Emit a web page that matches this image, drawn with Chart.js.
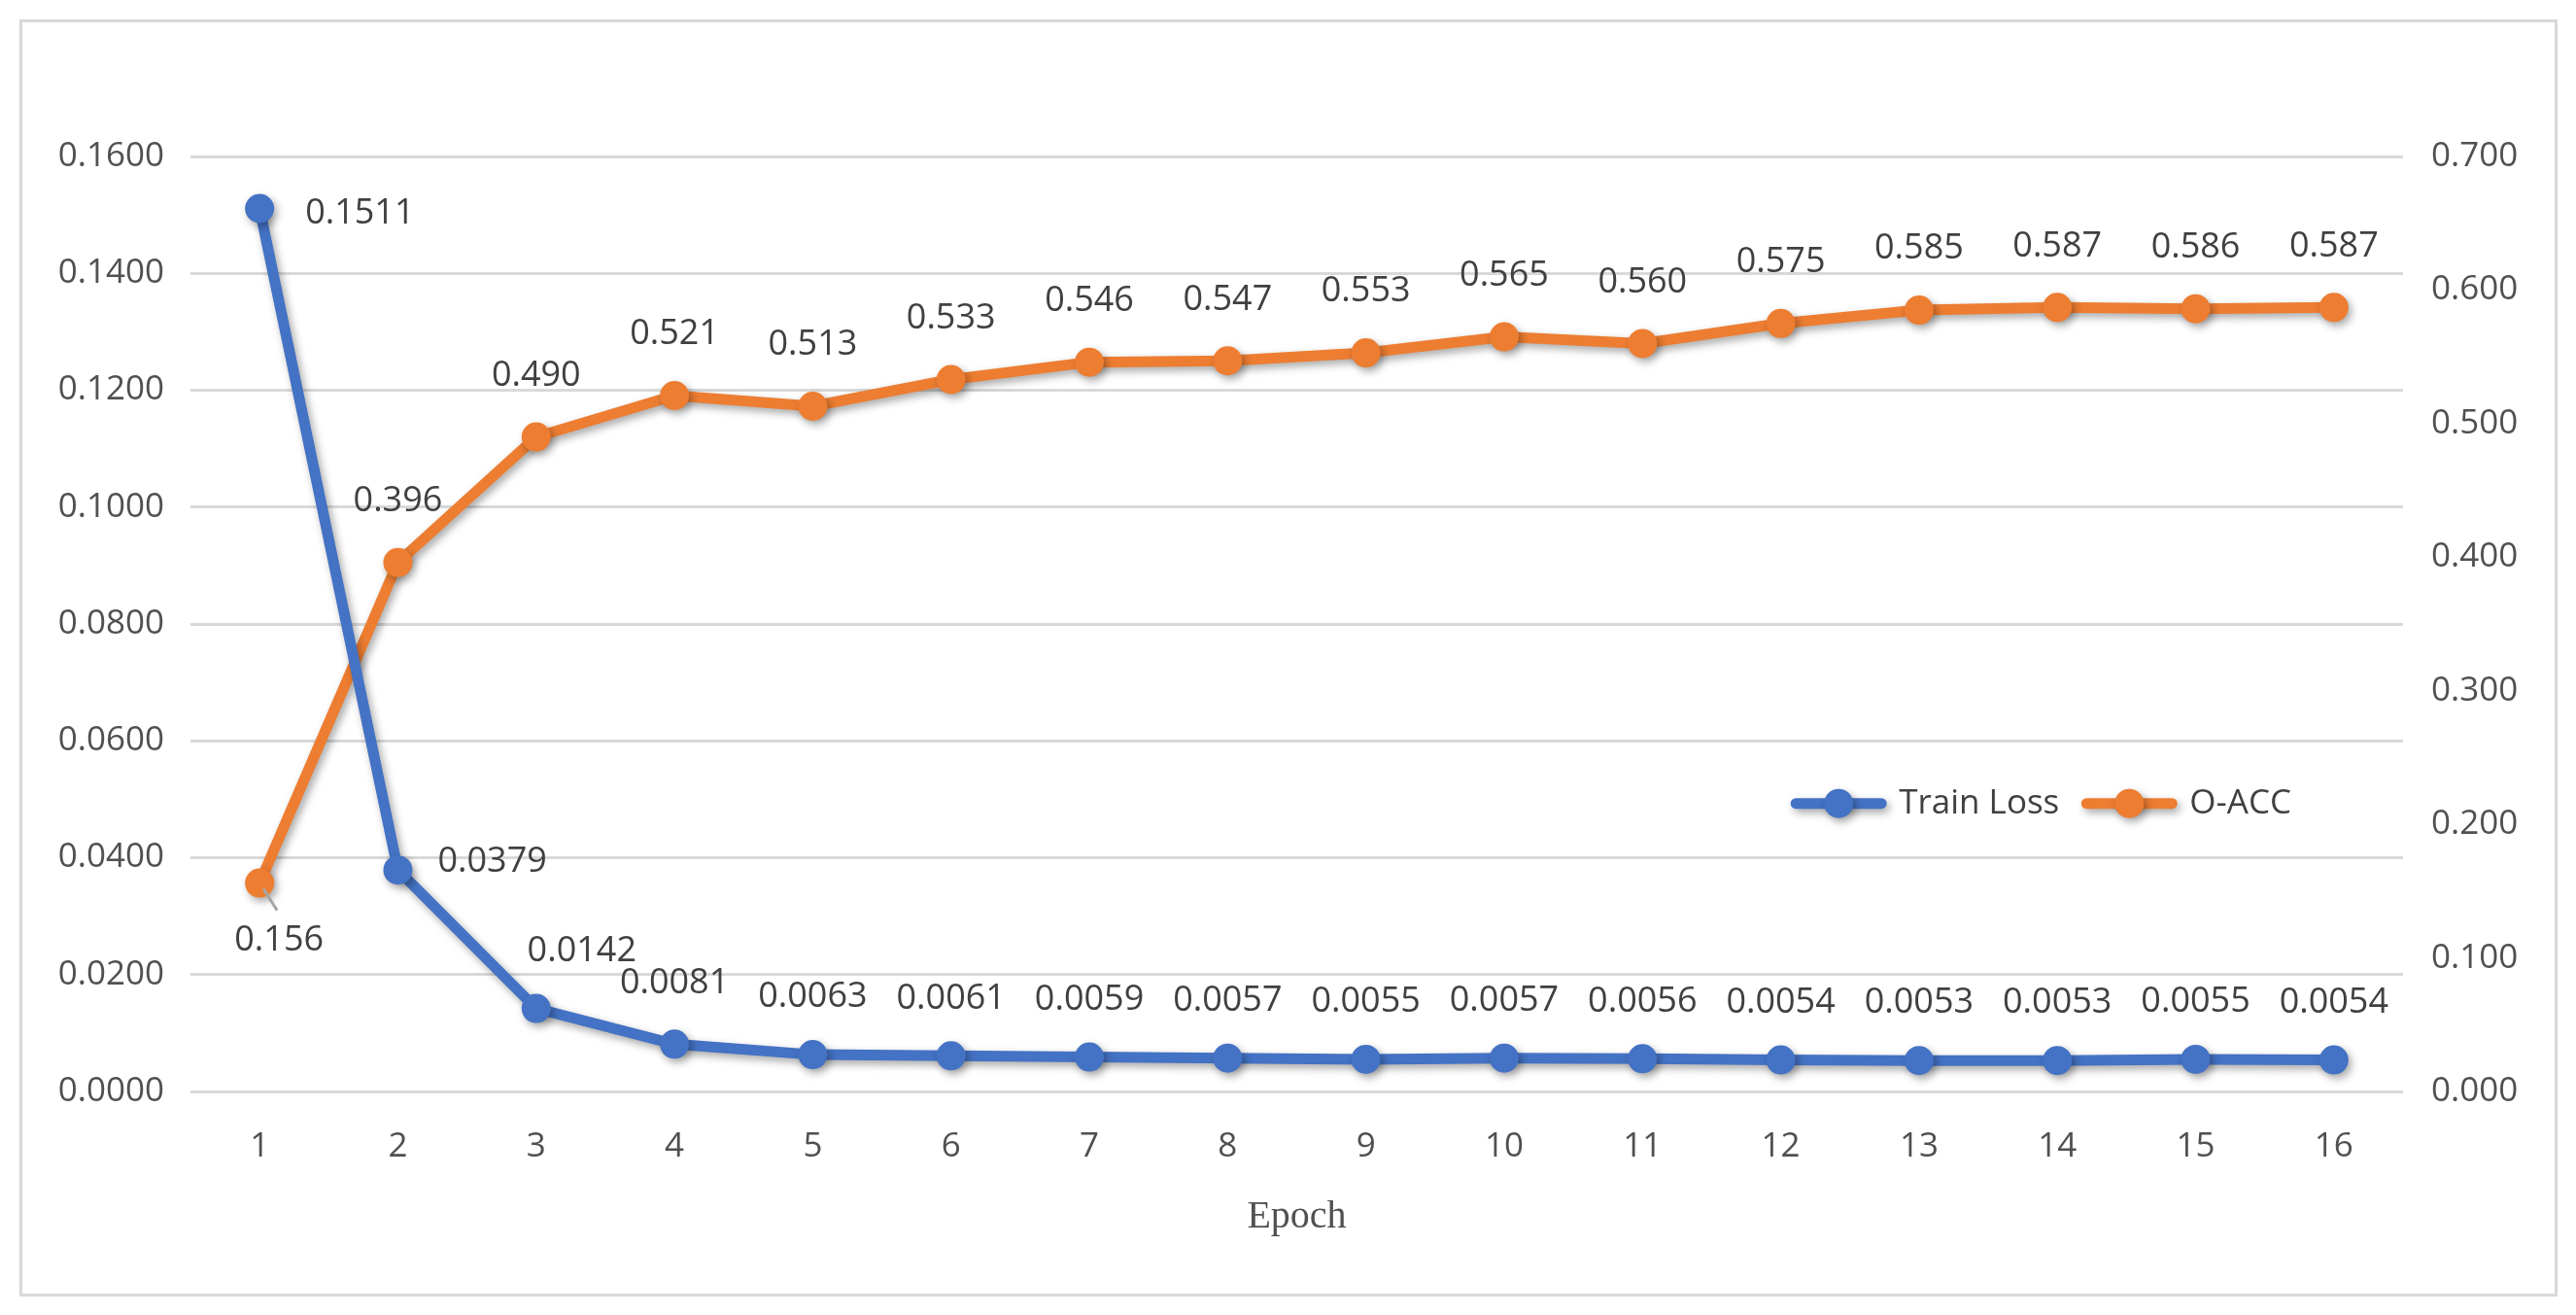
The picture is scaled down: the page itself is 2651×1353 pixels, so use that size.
<!DOCTYPE html>
<html>
<head>
<meta charset="utf-8">
<title>Train Loss / O-ACC</title>
<script src="https://cdn.jsdelivr.net/npm/chart.js@4.4.0/dist/chart.umd.min.js"></script>
<style>
html, body { margin: 0; padding: 0; background: #fff; }
#frame { position: absolute; left: 20px; top: 20px; width: 2606px; height: 1308px; border: 3px solid #d9d9d9; }
#wrap { position: absolute; left: 0; top: 0; width: 2651px; height: 1353px; }
</style>
</head>
<body>
<div id="frame"></div>
<div id="wrap"><canvas id="lossChart"></canvas></div>
<script>
const epochs = ['1', '2', '3', '4', '5', '6', '7', '8', '9', '10', '11', '12', '13', '14', '15', '16'];
const trainLoss = [0.1511, 0.0379, 0.0142, 0.0081, 0.0063, 0.0061, 0.0059, 0.0057, 0.0055, 0.0057, 0.0056, 0.0054, 0.0053, 0.0053, 0.0055, 0.0054];
const oAcc = [0.156, 0.396, 0.490, 0.521, 0.513, 0.533, 0.546, 0.547, 0.553, 0.565, 0.560, 0.575, 0.585, 0.587, 0.586, 0.587];

const BLUE = '#4472C4';
const ORANGE = '#ED7D31';
const TEXT = '#505050';
const FONT = '"Open Sans", "Noto Sans", sans-serif';

// where each value label sits relative to its point
function lossSpot(i) {
    if (i === 0) return { dx: 47, dy: 5, align: 'left' };
    if (i === 1) return { dx: 41, dy: -8, align: 'left' };
    if (i === 2) return { dx: 47, dy: -59, align: 'center' };
    if (i === 3) return { dx: 0, dy: -63, align: 'center' };
    return { dx: 0, dy: -59, align: 'center' };
}
function accSpot(i) {
    if (i === 0) return { dx: 20, dy: 59, align: 'center', leader: true };
    return { dx: 0, dy: -63, align: 'center' };
}

function setShadow(ctx) {
    ctx.shadowColor = 'rgba(0,0,0,0.35)';
    ctx.shadowBlur = 9;
    ctx.shadowOffsetX = 3;
    ctx.shadowOffsetY = 4;
}

const shadowPlugin = {
    id: 'shadowPlugin',
    beforeDatasetsDraw(chart) {
        chart.ctx.save();
        setShadow(chart.ctx);
    },
    afterDatasetsDraw(chart) {
        chart.ctx.restore();
    }
};

const pointLabels = {
    id: 'pointLabels',
    afterDraw(chart) {
        const ctx = chart.ctx;
        ctx.save();
        ctx.font = '36px ' + FONT;
        ctx.fillStyle = '#404040';
        ctx.textBaseline = 'middle';
        chart.data.datasets.forEach((ds, di) => {
            const meta = chart.getDatasetMeta(di);
            meta.data.forEach((pt, i) => {
                const s = ds.labelSpot(i);
                if (s.leader) {
                    ctx.strokeStyle = '#a6a6a6';
                    ctx.lineWidth = 3;
                    ctx.beginPath();
                    ctx.moveTo(pt.x + 4, pt.y + 6);
                    ctx.lineTo(pt.x + 18, pt.y + 28);
                    ctx.stroke();
                }
                ctx.textAlign = s.align;
                ctx.fillText(ds.data[i].toFixed(ds.digits), pt.x + s.dx, pt.y + s.dy);
            });
        });
        ctx.restore();
    }
};

// Excel style legend: line with a marker, placed inside the plot
const insideLegend = {
    id: 'insideLegend',
    afterDraw(chart) {
        const ctx = chart.ctx;
        const area = chart.chartArea;
        const y = area.top + (area.bottom - area.top) * 0.692;
        let x = area.right - 115;
        ctx.save();
        ctx.font = '35px ' + FONT;
        ctx.textBaseline = 'middle';
        ctx.textAlign = 'left';
        const items = chart.data.datasets.map(ds => ({ label: ds.label, color: ds.borderColor }));
        const widths = items.map(it => ctx.measureText(it.label).width);
        const lineLen = 100, gap1 = 12, gap2 = 22;
        let total = 0;
        items.forEach((it, k) => { total += lineLen + gap1 + widths[k] + (k < items.length - 1 ? gap2 : 0); });
        x -= total;
        items.forEach((it, k) => {
            ctx.save();
            setShadow(ctx);
            ctx.strokeStyle = it.color;
            ctx.lineWidth = 11;
            ctx.lineCap = 'round';
            ctx.beginPath();
            ctx.moveTo(x + 6, y);
            ctx.lineTo(x + lineLen - 6, y);
            ctx.stroke();
            ctx.fillStyle = it.color;
            ctx.beginPath();
            ctx.arc(x + lineLen / 2, y, 15, 0, Math.PI * 2);
            ctx.fill();
            ctx.restore();
            ctx.fillStyle = '#404040';
            ctx.fillText(it.label, x + lineLen + gap1, y);
            x += lineLen + gap1 + widths[k] + gap2;
        });
        ctx.restore();
    }
};

const ctx = document.getElementById('lossChart').getContext('2d');
const lossChart = new Chart(ctx, {
    type: 'line',
    data: {
        labels: epochs,
        datasets: [{
            label: 'Train Loss',
            data: trainLoss,
            yAxisID: 'yLoss',
            borderColor: BLUE,
            backgroundColor: BLUE,
            borderWidth: 11,
            pointRadius: 15,
            pointBorderWidth: 0,
            pointBackgroundColor: BLUE,
            tension: 0,
            digits: 4,
            labelSpot: lossSpot
        }, {
            label: 'O-ACC',
            data: oAcc,
            yAxisID: 'yAcc',
            borderColor: ORANGE,
            backgroundColor: ORANGE,
            borderWidth: 11,
            pointRadius: 15,
            pointBorderWidth: 0,
            pointBackgroundColor: ORANGE,
            tension: 0,
            digits: 3,
            labelSpot: accSpot
        }]
    },
    options: {
        responsive: true,
        maintainAspectRatio: false,
        animation: false,
        events: [],
        layout: { padding: { top: 161, left: 0, right: 0, bottom: 0 } },
        plugins: {
            legend: { display: false },
            tooltip: { enabled: false }
        },
        scales: {
            x: {
                offset: true,
                grid: { display: false },
                border: { display: false },
                ticks: { color: TEXT, font: { family: FONT, size: 35 }, padding: 28 },
                title: {
                    display: true,
                    text: 'Epoch',
                    color: TEXT,
                    font: { family: '"Liberation Serif", "DejaVu Serif", serif', size: 40 },
                    padding: { top: 0, bottom: 77 }
                },
                afterFit(scale) { scale.height = 230; }
            },
            yLoss: {
                position: 'left',
                min: 0,
                max: 0.16,
                grid: { color: '#d9d9d9', lineWidth: 3, drawTicks: false },
                border: { display: false },
                ticks: {
                    stepSize: 0.02,
                    color: TEXT,
                    padding: 27,
                    font: { family: FONT, size: 35 },
                    callback: value => value.toFixed(4)
                },
                afterFit(scale) { scale.width = 196; }
            },
            yAcc: {
                position: 'right',
                min: 0,
                max: 0.7,
                grid: { display: false, drawTicks: false },
                border: { display: false },
                ticks: {
                    stepSize: 0.1,
                    color: TEXT,
                    padding: 29,
                    font: { family: FONT, size: 35 },
                    callback: value => value.toFixed(3)
                },
                afterFit(scale) { scale.width = 178; }
            }
        }
    },
    plugins: [shadowPlugin, pointLabels, insideLegend]
});
</script>
</body>
</html>
